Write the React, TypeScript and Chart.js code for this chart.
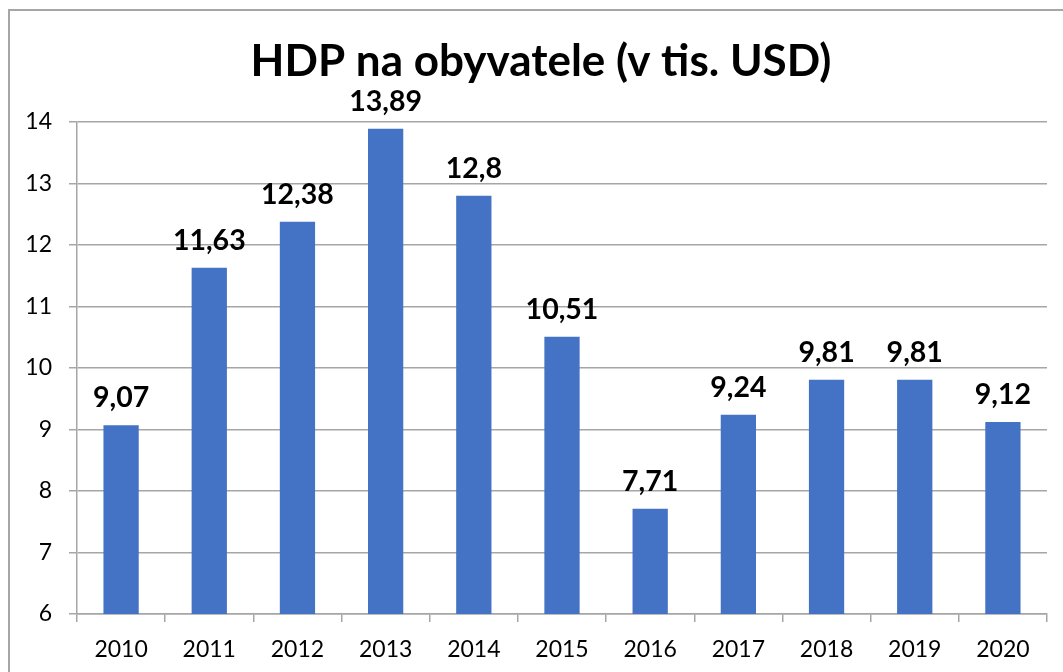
import React, { useEffect, useRef } from "react";
import { Chart, registerables } from "chart.js";

Chart.register(...registerables);

const years = ["2010", "2011", "2012", "2013", "2014", "2015", "2016", "2017", "2018", "2019", "2020"];
const gdpPerCapita = [9.07, 11.63, 12.38, 13.89, 12.8, 10.51, 7.71, 9.24, 9.81, 9.81, 9.12];
const yTicks = [6, 7, 8, 9, 10, 11, 12, 13, 14];
const titleText = "HDP na obyvatele (v tis. USD)";

const FONT = "Lato, 'Open Sans', sans-serif";
const GRID = "#a6a6a6";

const dataLabelPlugin = {
  id: "dataLabels",
  afterDatasetsDraw(chart: any) {
    const ctx = chart.ctx;
    const meta = chart.getDatasetMeta(0);
    ctx.save();
    ctx.font = `bold 28.5px ${FONT}`;
    ctx.fillStyle = "#000";
    ctx.textAlign = "center";
    ctx.textBaseline = "alphabetic";
    meta.data.forEach((bar: any, i: number) => {
      const v = gdpPerCapita[i];
      const txt = String(v).replace(".", ",");
      ctx.fillText(txt, bar.x, bar.y - 18);
    });
    ctx.restore();
  },
};

const titlePlugin = {
  id: "customTitle",
  afterDraw(chart: any) {
    const ctx = chart.ctx;
    ctx.save();
    ctx.font = `bold 44px ${FONT}`;
    ctx.fillStyle = "#000";
    ctx.textAlign = "center";
    ctx.textBaseline = "alphabetic";
    ctx.fillText(titleText, 541, 76);
    ctx.restore();
  },
};

export default function App() {
  const ref = useRef<HTMLCanvasElement | null>(null);
  useEffect(() => {
    if (!ref.current) return;
    const chart = new Chart(ref.current, {
      type: "bar",
      data: {
        labels: years,
        datasets: [
          {
            data: gdpPerCapita,
            backgroundColor: "#4472C4",
            borderWidth: 0,
            barPercentage: 1,
            categoryPercentage: 0.4,
          },
        ],
      },
      options: {
        animation: false,
        responsive: false,
        maintainAspectRatio: false,
        layout: { padding: { left: 0, right: 16, top: 122, bottom: 0 } },
        plugins: {
          legend: { display: false },
          tooltip: { enabled: false },
          title: { display: false },
        },
        scales: {
          x: {
            grid: {
              offset: true,
              drawOnChartArea: false,
              drawTicks: true,
              tickLength: 8,
              color: GRID,
              lineWidth: 1.5,
            },
            border: { display: true, color: GRID, width: 1.5 },
            ticks: {
              color: "#000",
              font: { family: FONT, size: 23 },
              padding: 14,
              maxRotation: 0,
              autoSkip: false,
            },
            afterFit(scale: any) {
              scale.height = 58;
            },
          },
          y: {
            min: 6,
            max: 14,
            afterBuildTicks(scale: any) {
              scale.ticks = yTicks.map((v) => ({ value: v }));
            },
            grid: {
              color: GRID,
              lineWidth: 1.5,
              drawTicks: true,
              tickLength: 8,
            },
            border: { display: true, color: GRID, width: 1.5 },
            ticks: {
              color: "#000",
              font: { family: FONT, size: 23 },
              padding: 17,
            },
            afterFit(scale: any) {
              scale.width = 77;
            },
          },
        },
      },
      plugins: [dataLabelPlugin, titlePlugin],
    });
    return () => chart.destroy();
  }, []);

  return (
    <div style={{ position: "fixed", left: 0, top: 0, width: 1063, height: 672, overflow: "hidden", background: "#fff" }}>
      <div
        style={{
          position: "absolute",
          left: 8,
          top: 9,
          width: 1100,
          height: 700,
          border: "2px solid #a6a6a6",
          boxSizing: "border-box",
        }}
      />
      <canvas ref={ref} width={1063} height={672} style={{ position: "absolute", left: 0, top: 0, width: 1063, height: 672 }} />
    </div>
  );
}
